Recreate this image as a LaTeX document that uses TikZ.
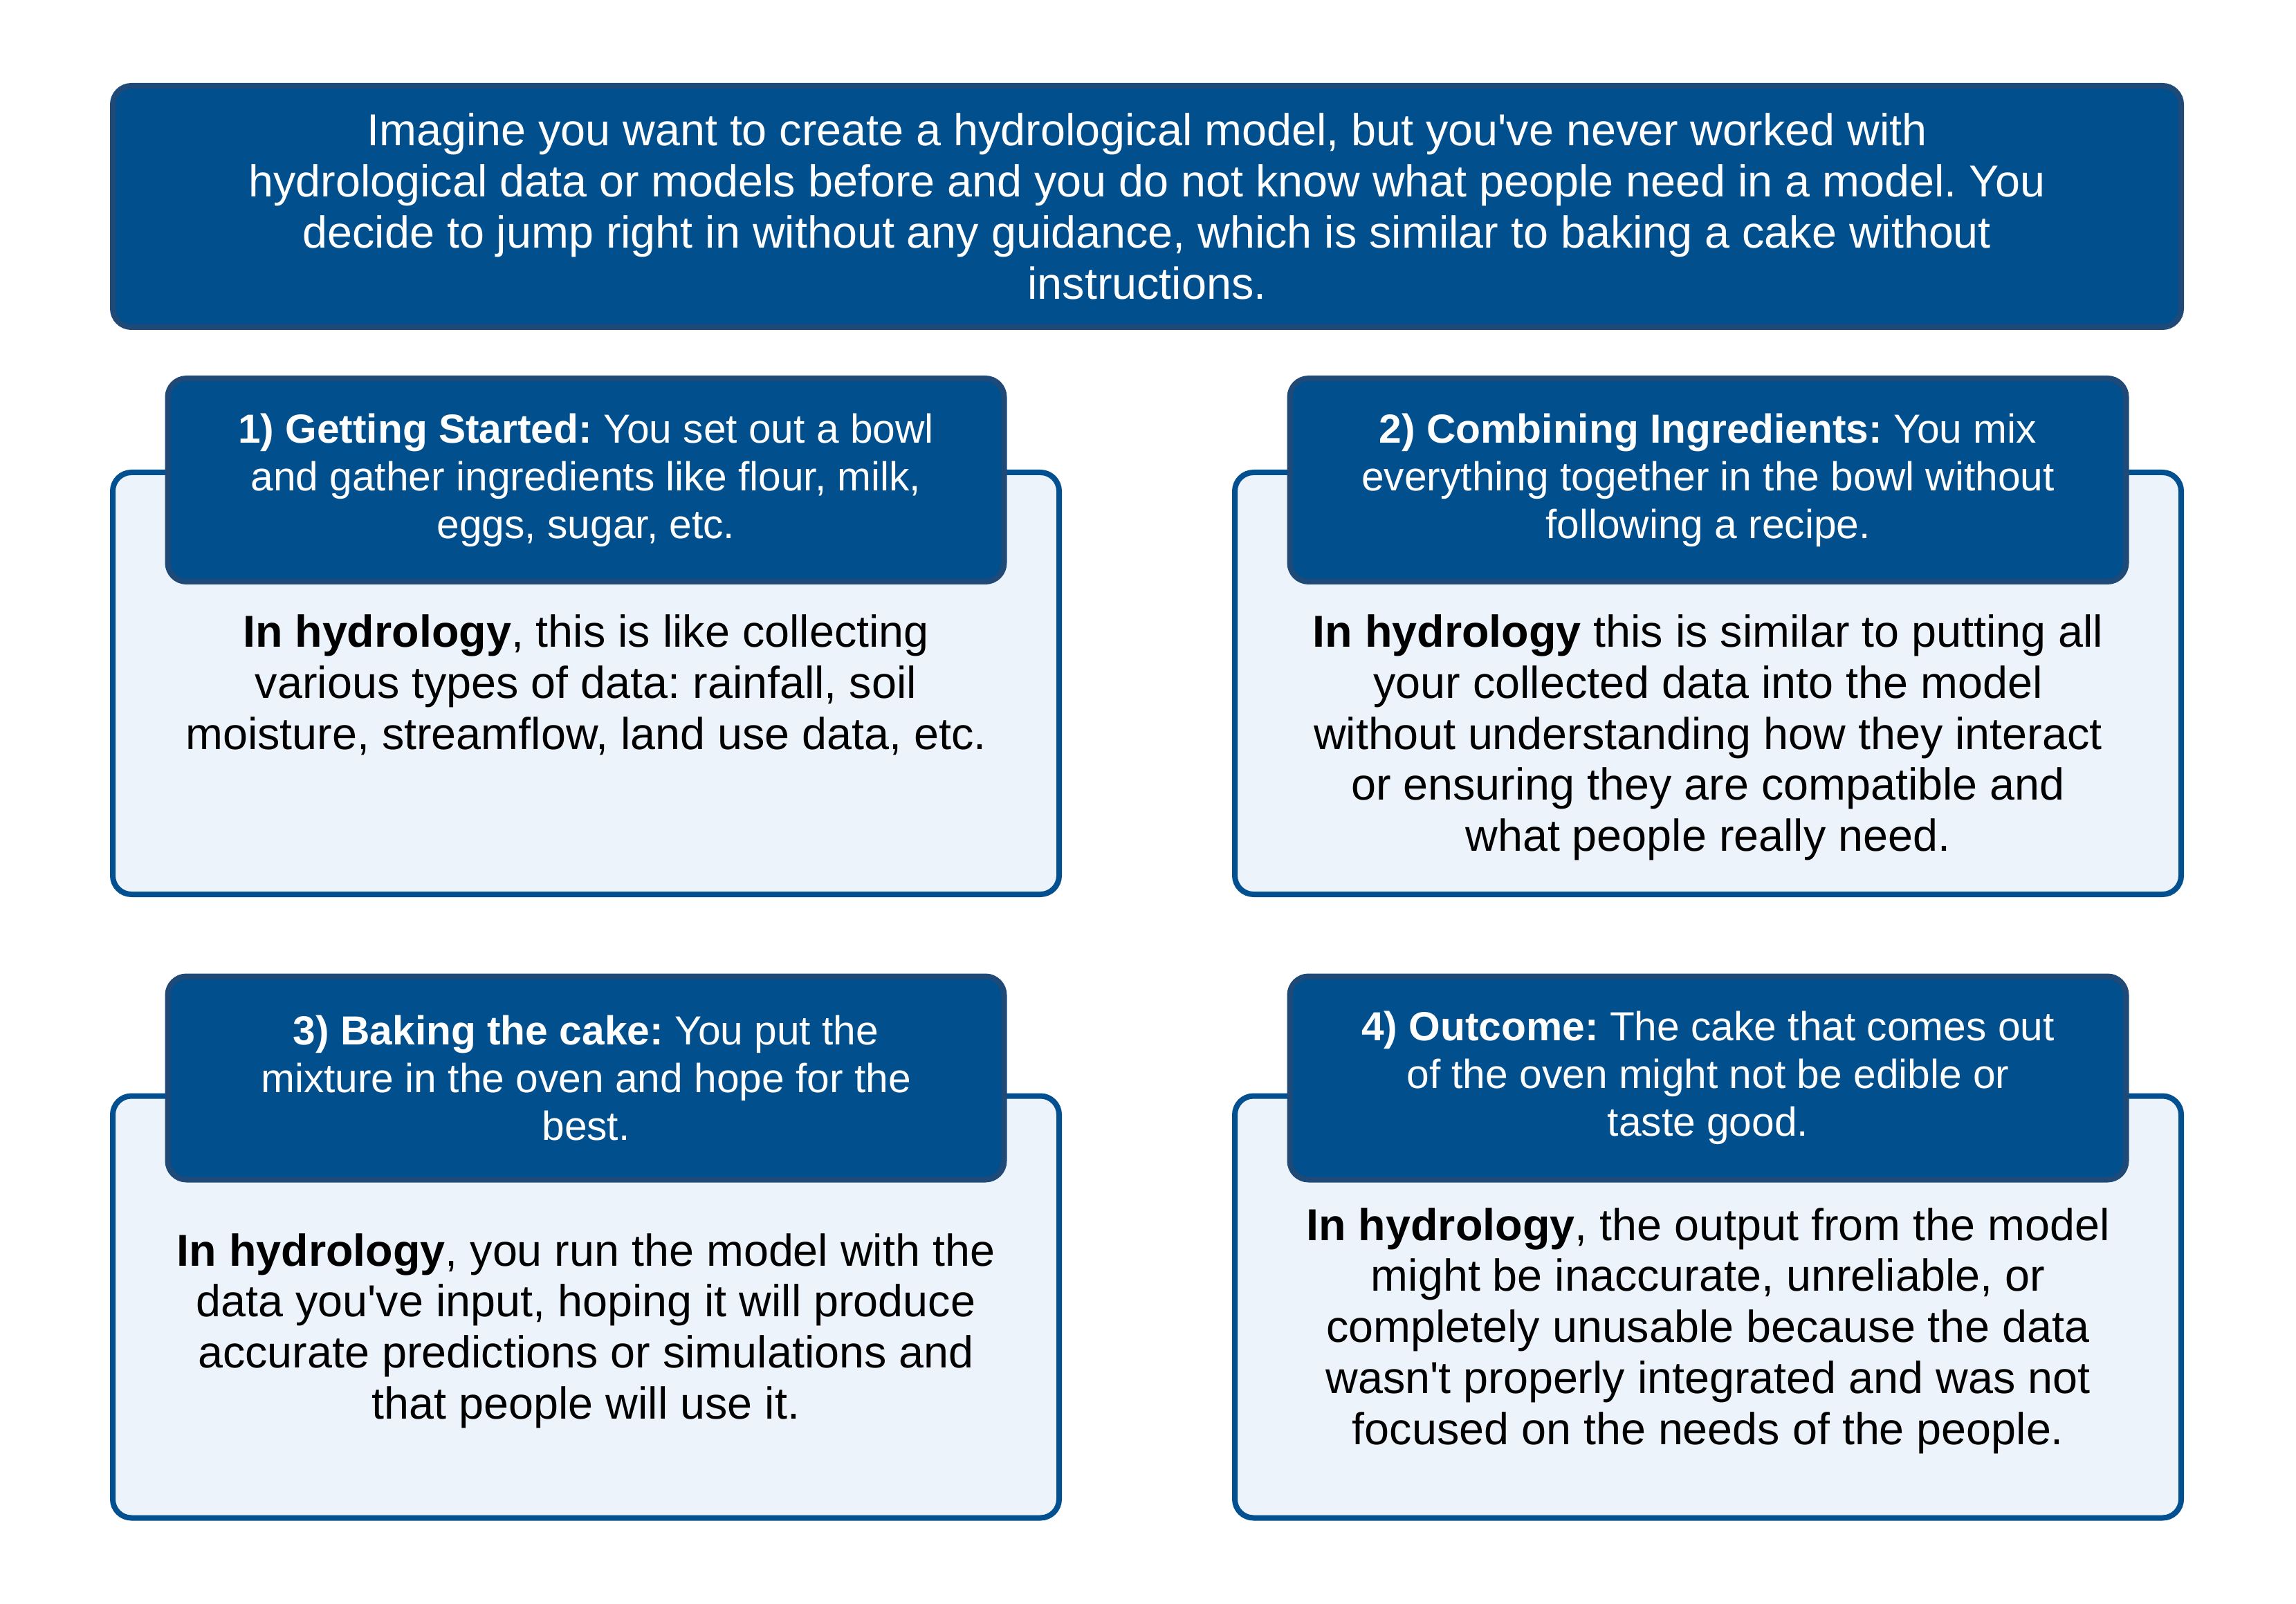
\documentclass[tikz,border=0pt]{standalone}
\usepackage{fontspec}
\setmainfont{Liberation Sans}
\usetikzlibrary{positioning}
\definecolor{headBlue}{RGB}{2,79,142}
\definecolor{headEdge}{RGB}{31,73,119}
\definecolor{cardFill}{RGB}{236,243,251}
\definecolor{cardEdge}{RGB}{2,80,143}
\newcommand{\ap}{\textquotesingle}
\frenchspacing

\tikzset{
  introbox/.style={draw=headEdge, fill=headBlue, line width=0.08cm, rounded corners=0.27cm,
    text=white, align=center, minimum width=29.90cm, minimum height=3.49cm,
    font=\fontsize{18.4}{21}\selectfont},
  headbox/.style={draw=headEdge, fill=headBlue, line width=0.08cm, rounded corners=0.27cm,
    text=white, align=center, minimum width=12.09cm, minimum height=2.94cm,
    font=\fontsize{16.7}{19.6}\selectfont},
  cardbox/.style={draw=cardEdge, fill=cardFill, line width=0.08cm, rounded corners=0.27cm,
    minimum width=13.68cm, minimum height=6.10cm},
  bodytext/.style={align=center, inner sep=0pt, text=black,
    font=\fontsize{18.4}{21}\selectfont}
}

\begin{document}
\begin{tikzpicture}
    \useasboundingbox (0,0) rectangle (33.19,-23.19);

    % Intro box across the top
    \node[introbox] (intro) at (16.58,-2.985) {Imagine you want to create a hydrological model, but you\ap ve never worked with\\
      hydrological data or models before and you do not know what people need in a model. You\\
      decide to jump right in without any guidance, which is similar to baking a cake without\\
      instructions.};

    % Light cards behind the four steps
    \node[cardbox] (card1) at (8.47,-9.88) {};
    \node[cardbox] (card2) at (24.69,-9.88) {};
    \node[cardbox] (card3) at (8.47,-18.895) {};
    \node[cardbox] (card4) at (24.69,-18.895) {};

    % Step headers, overlapping the top edge of each card
    \node[headbox, above=-1.66cm of card1.north] (head1) {\textbf{1) Getting Started:} You set out a bowl\\
      and gather ingredients like flour, milk,\\ eggs, sugar, etc.};
    \node[headbox, above=-1.66cm of card2.north] (head2) {\textbf{2) Combining Ingredients:} You mix\\
      everything together in the bowl without\\ following a recipe.};
    \node[headbox, above=-1.29cm of card3.north] (head3) {\textbf{3) Baking the cake:} You put the\\
      mixture in the oven and hope for the\\ best.};
    \node[headbox, above=-1.29cm of card4.north] (head4) {\textbf{4) Outcome:} The cake that comes out\\
      of the oven might not be edible or\\ taste good.};

    % Hydrology texts
    \node[bodytext, below=0.43cm of head1] (body1) {\textbf{In hydrology}, this is like collecting\\
      various types of data: rainfall, soil\\ moisture, streamflow, land use data, etc.};
    \node[bodytext, below=0.43cm of head2] (body2) {\textbf{In hydrology} this is similar to putting all\\
      your collected data into the model\\ without understanding how they interact\\
      or ensuring they are compatible and\\ what people really need.};
    \node[bodytext] (body3) at (8.47,-19.24) {\textbf{In hydrology}, you run the model with the\\
      data you\ap ve input, hoping it will produce\\ accurate predictions or simulations and\\
      that people will use it.};
    \node[bodytext] (body4) at (24.69,-19.24) {\textbf{In hydrology}, the output from the model\\
      might be inaccurate, unreliable, or\\ completely unusable because the data\\
      wasn\ap t properly integrated and was not\\ focused on the needs of the people.};
\end{tikzpicture}
\end{document}
